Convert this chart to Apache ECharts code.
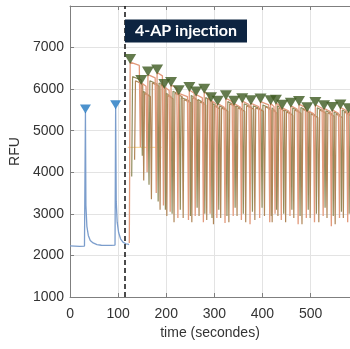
<!DOCTYPE html>
<html><head><meta charset="utf-8">
<script src="https://cdn.jsdelivr.net/npm/echarts@6/dist/echarts.min.js"></script>
<style>html,body{margin:0;padding:0;background:#fff}#c{width:350px;height:349px}</style>
</head><body><div id="c"></div>
<script>
// ---- data ----
const xTickValues = [0, 100, 200, 300, 400, 500];
const yTickValues = [1000, 2000, 3000, 4000, 5000, 6000, 7000];
const injectionTime = 114;
const injectionLabel = '4-AP injection';

// baseline (pre-injection) trace, time / RFU
const blueTrace = [[0,2230],[10,2225],[20,2220],[30,2225],[31.2,2240],[32,5450],[33,3200],[35,2700],[38,2480],[42,2360],[48,2300],[56,2260],[65,2245],[75,2240],[85,2240],[93.5,2250],[94.8,5550],[96,3300],[98,2800],[101,2550],[105,2400],[110,2320],[116,2280],[121,2270],[122.5,2260]];
const bluePeaks = [[32,5450],[94.8,5550]];

// post-injection trace A (marked peaks)
const peakTimesA  = [125,148,162,181,196,210,226,248,262,279,293,307,324,341,358,376,396,417,428,441,459,476,493,510,528,545,562,579];
const peakValuesA = [6650,6150,6350,6400,6050,6100,5900,5980,5870,5940,5730,5650,5780,5650,5710,5660,5700,5660,5670,5550,5600,5640,5490,5620,5540,5500,5560,5470];
const troughValuesA = [2300,4600,4000,3500,3200,3050,2900,2850,2950,2800,3000,2900,2780,2950,2850,2750,2900,2800,3000,2850,2950,2750,2900,2800,2950,2700,2900,2800];
// post-injection trace B (second cell)
const peakTimesB  = [136,155,171,189,203,218,237,255,270,286,300,315,332,349,367,386,406,422,434,450,467,484,501,519,536,553,570];
const peakValuesB = [6200,5900,6150,6100,5850,5900,5750,5800,5700,5780,5600,5550,5650,5550,5600,5550,5580,5500,5550,5450,5500,5520,5400,5500,5430,5400,5450];
const troughValuesB = [4300,3800,3350,3100,2950,2800,2900,2800,2950,2850,2750,2900,2800,2950,2800,2850,2950,2800,2950,2800,2900,2750,2900,2800,2900,2750,2900];
// post-injection trace C (third cell)
const peakTimesC  = [130,152,166,185,200,214,231,252,266,282,297,311,328,345,362,381,401,420,431,446,463,480,497,514,532,549,566,582];
const peakValuesC = [6300,5950,6200,6150,5900,5950,5800,5850,5750,5800,5650,5600,5700,5600,5650,5600,5620,5550,5600,5500,5550,5560,5450,5550,5480,5450,5500,5420];
const troughValuesC = [3900,4400,3700,3300,3100,3000,3100,2950,3150,3000,2900,3100,2950,3150,3000,3050,3150,2950,3100,3000,3100,2950,3100,3000,3150,2950,3050,3000];
const traceEnd = 583;
const thresholdLine = [[120,4600],[190,4600]];

// ---- drawing helpers (shape of each oscillation) ----
const riseTime = 1.8, fallTime = 2.2, plateauDrop = 80;
function buildTrace(peakT, peakV, troughV) {
  const pts = [];
  for (let i = 0; i < peakT.length; i++) {
    pts.push([peakT[i] - riseTime, troughV[i]]);
    pts.push([peakT[i], peakV[i]]);
    const nextStart = i < peakT.length - 1 ? peakT[i + 1] - riseTime - fallTime : traceEnd;
    pts.push([nextStart, peakV[i] - plateauDrop]);
  }
  return pts;
}
const traceA = buildTrace(peakTimesA, peakValuesA, troughValuesA);
const traceB = buildTrace(peakTimesB, peakValuesB, troughValuesB);
const traceC = buildTrace(peakTimesC, peakValuesC, troughValuesC);
const peaksA = peakTimesA.map((t, i) => [t, peakValuesA[i]]);

// ---- chart ----
const chart = echarts.init(document.getElementById('c'), null, {renderer:'canvas'});
const axisGrey = '#7f7f7f';
const textCol = '#333333';
const fontFam = 'Liberation Sans, Arial, sans-serif';
const fmtX = v => (xTickValues.indexOf(v) >= 0 ? String(v) : '');
const fmtY = v => (yTickValues.indexOf(v) >= 0 ? String(v) : '');

chart.setOption({
  animation: false,
  backgroundColor: '#fff',
  grid: {left: 69, right: 0, top: 6, bottom: 52},
  xAxis: [{
    type: 'value', min: 0, max: 582, interval: 100,
    name: 'time (secondes)', nameLocation: 'middle', nameGap: 29,
    nameTextStyle: {color: textCol, fontSize: 14, fontFamily: fontFam},
    axisLine: {show: true, onZero: false, lineStyle: {color: axisGrey, width: 1}},
    axisTick: {show: true, inside: true, length: 4, lineStyle: {color: axisGrey}},
    axisLabel: {color: textCol, fontSize: 14, fontFamily: fontFam, margin: 10, formatter: fmtX, showMaxLabel: false},
    splitLine: {show: true, lineStyle: {color: '#e3e3e3', width: 1}}
  }, {
    type: 'value', position: 'top', min: 0, max: 582, interval: 100,
    axisLine: {show: true, onZero: false, lineStyle: {color: axisGrey, width: 1}},
    axisTick: {show: true, inside: true, length: 4, lineStyle: {color: axisGrey}},
    axisLabel: {show: false}, splitLine: {show: false}
  }],
  yAxis: [{
    type: 'value', min: 1000, max: 8000, interval: 1000,
    name: 'RFU', nameLocation: 'middle', nameGap: 43,
    nameTextStyle: {color: textCol, fontSize: 14, fontFamily: fontFam},
    axisLine: {show: true, onZero: false, lineStyle: {color: axisGrey, width: 1}},
    axisTick: {show: true, inside: true, length: 4, lineStyle: {color: axisGrey}},
    axisLabel: {color: textCol, fontSize: 14, fontFamily: fontFam, margin: 6, formatter: fmtY, showMaxLabel: false},
    splitLine: {show: true, lineStyle: {color: '#e3e3e3', width: 1}}
  }],
  series: [
    {type: 'line', data: blueTrace, showSymbol: false, lineStyle: {color: '#7b9dcc', width: 1.3}, z: 3,
     markLine: {silent: true, symbol: 'none', label: {show: false},
       lineStyle: {color: '#111', type: [5, 3], width: 1.5},
       data: [{xAxis: injectionTime}]},
     markPoint: {symbol: 'rect', symbolSize: 0.1,
       data: [{coord: [injectionTime, 7400], value: injectionLabel}],
       label: {show: true, position: 'right', distance: 0, formatter: injectionLabel,
         color: '#fff', backgroundColor: '#0d2441', padding: [4, 10, 3, 10],
         fontSize: 16, fontFamily: 'Lato, Open Sans, sans-serif', fontWeight: 'bold'}}
    },
    {type: 'line', data: thresholdLine, showSymbol: false, lineStyle: {color: '#f2c46a', width: 1, opacity: 0.8}, z: 2},
    {type: 'line', data: traceC, showSymbol: false, lineStyle: {color: '#8f8c5c', width: 1.2}, z: 4},
    {type: 'line', data: traceB, showSymbol: false, lineStyle: {color: '#b08658', width: 1.2}, z: 4},
    {type: 'line', data: traceA, showSymbol: false, lineStyle: {color: '#e29a7c', width: 1.3}, z: 5},
    {type: 'scatter', data: bluePeaks, symbol: 'triangle', symbolRotate: 180, symbolSize: [11, 9],
     symbolOffset: [0, -3], itemStyle: {color: '#1f77c0'}, z: 10},
    {type: 'scatter', data: peaksA, symbol: 'triangle', symbolRotate: 180, symbolSize: [12, 10],
     symbolOffset: [0, -3], itemStyle: {color: '#3d5a20'}, z: 10}
  ]
});
</script></body></html>
